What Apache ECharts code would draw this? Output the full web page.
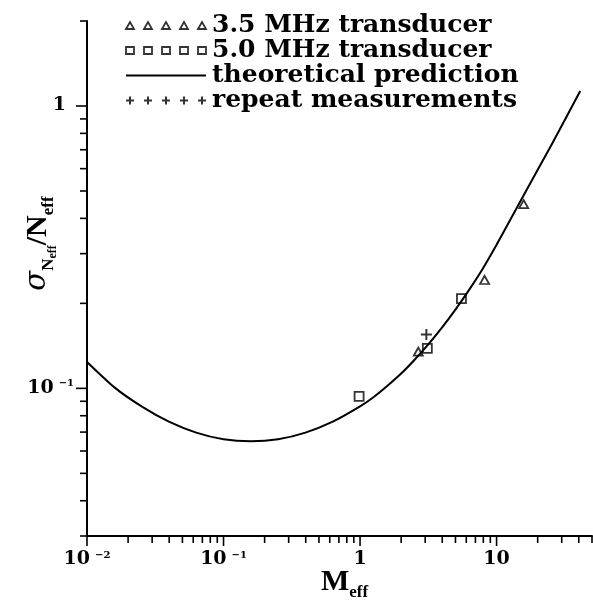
<!DOCTYPE html>
<html>
<head>
<meta charset="utf-8">
<script src="https://cdn.jsdelivr.net/npm/echarts@6/dist/echarts.min.js"></script>
<style>
html, body { margin: 0; padding: 0; background: #fff; }
#main { width: 593px; height: 611px; }
</style>
</head>
<body>
<div id="main"></div>
<script>
// theoretical prediction
let curveX = [0.01, 0.0158, 0.0251, 0.0398, 0.0631, 0.1, 0.158, 0.251, 0.398, 0.631,
              1, 1.26, 1.58, 2.0, 2.51, 3.16, 3.98, 5.01, 6.31, 7.94, 10, 15.8, 25.1, 41];
let curveY = [0.124, 0.101, 0.0863, 0.0762, 0.0697, 0.066, 0.0649, 0.066, 0.0697, 0.0762,
              0.0863, 0.0932, 0.1019, 0.1128, 0.1263, 0.1431, 0.1641, 0.1905, 0.2238, 0.2659, 0.3225, 0.483, 0.725, 1.13];

// measured points
let tri35X = [2.67, 8.17, 15.8];
let tri35Y = [0.135, 0.242, 0.449];
let sq50X = [0.984, 3.11, 5.53];
let sq50Y = [0.0937, 0.1386, 0.208];
let repX = [3.06];
let repY = [0.155];

// axes
let xMin = 0.01, xMax = 50;
let yMin = 0.03, yMax = 2;
let xMajor = [0.01, 0.1, 1, 10];
let xMinor = [0.02, 0.03, 0.04, 0.05, 0.06, 0.07, 0.08, 0.09,
              0.2, 0.3, 0.4, 0.5, 0.6, 0.7, 0.8, 0.9,
              2, 3, 4, 5, 6, 7, 8, 9, 20, 30, 40, 50];
let xLabels = ['{m|10}{s|−2}', '{m|10}{s|−1}', '{m|1}', '{m|10}'];
let yMajor = [0.1, 1];
let yMinor = [0.03, 0.04, 0.05, 0.06, 0.07, 0.08, 0.09,
              0.2, 0.3, 0.4, 0.5, 0.6, 0.7, 0.8, 0.9, 2];
let yLabels = ['{m|10}{s|−1}', '{one|1}'];

let names = ['3.5 MHz transducer', '5.0 MHz transducer', 'theoretical prediction', 'repeat measurements'];

// legend icons: five little symbols in a row
let slots = [0, 18, 36, 54, 72];
let triIcon = 'path://' + slots.map(x => `M${x},7L${x + 4},0L${x + 8},7Z`).join('');
let sqIcon = 'path://' + slots.map(x => `M${x},0H${x + 8}V7H${x}Z`).join('');
let plusIcon = 'path://' + slots.map(x => `M${x},4H${x + 8}M${x + 4},0V8`).join('');
let lineIcon = 'path://M0,0H72V2H0Z';

let hollow = { color: 'rgba(0,0,0,0)', borderColor: '#000', borderWidth: 1.8 };

function pick(vals, texts) {
	return function (v) {
		let i = vals.findIndex(t => Math.abs(t - v) / t < 1e-6);
		return i < 0 ? '' : texts[i];
	};
}

let labelRich = {
	m: { fontFamily: 'DejaVu Serif', fontWeight: 'bold', fontSize: 19, lineHeight: 20, verticalAlign: 'top', color: '#000' },
	s: { fontFamily: 'DejaVu Serif', fontWeight: 'bold', fontSize: 10, lineHeight: 11, verticalAlign: 'top', padding: [0, 0, 0, 5], color: '#000' },
	one: { fontFamily: 'DejaVu Serif', fontWeight: 'bold', fontSize: 19, lineHeight: 20, verticalAlign: 'top', padding: [0, 8, 0, 0], color: '#000' }
};

let nameRich = {
	i: { fontFamily: 'DejaVu Serif', fontStyle: 'italic', fontSize: 29, lineHeight: 30, verticalAlign: 'top', color: '#000' },
	m: { fontFamily: 'Liberation Serif', fontWeight: 'bold', fontSize: 30, lineHeight: 30, verticalAlign: 'top', color: '#000' },
	sub: { fontFamily: 'Liberation Serif', fontWeight: 'bold', fontSize: 17, lineHeight: 16, verticalAlign: 'top', padding: [17, 0, 0, 0], color: '#000' },
	sub2: { fontFamily: 'Liberation Serif', fontWeight: 'bold', fontSize: 12, lineHeight: 12, verticalAlign: 'top', padding: [24, 0, 0, 0], color: '#000' }
};

// tick marks, major and minor, placed through the axes
function ticks(data, down) {
	return {
		type: 'custom',
		silent: true,
		clip: false,
		z: 5,
		data: data,
		renderItem: function (params, api) {
			let p = api.coord([api.value(0), api.value(1)]);
			let len = api.value(2);
			return {
				type: 'line',
				shape: { x1: p[0], y1: p[1], x2: down ? p[0] : p[0] - len, y2: down ? p[1] + len : p[1] },
				style: { stroke: '#000', lineWidth: 1.6 }
			};
		}
	};
}

let xTickData = xMajor.map(v => [v, yMin, 10]).concat(xMinor.map(v => [v, yMin, 7]));
let yTickData = yMajor.map(v => [xMin, v, 11]).concat(yMinor.map(v => [xMin, v, 7]));

var myChart = echarts.init(document.getElementById('main'));
var option = {
	backgroundColor: '#fff',
	animation: false,
	grid: { left: 87, right: 1, top: 21, bottom: 75, outerBoundsMode: 'none', containLabel: false },
	legend: {
		orient: 'vertical',
		left: 120,
		top: 8,
		itemWidth: 80,
		itemHeight: 8,
		itemGap: 0,
		selectedMode: false,
		textStyle: { fontFamily: 'DejaVu Serif', fontWeight: 'bold', fontSize: 25, lineHeight: 21, color: '#000', padding: [0, 0, 0, 1] },
		data: [
			{ name: names[0], icon: triIcon, itemStyle: hollow },
			{ name: names[1], icon: sqIcon, itemStyle: hollow },
			{ name: names[2], icon: lineIcon, itemStyle: { color: '#000', borderWidth: 0 } },
			{ name: names[3], icon: plusIcon, itemStyle: { color: 'rgba(0,0,0,0)', borderColor: '#000', borderWidth: 2 } }
		]
	},
	xAxis: {
		type: 'log',
		logBase: 10,
		min: xMin,
		max: xMax,
		name: '{m|M}{sub|eff}',
		nameLocation: 'middle',
		nameGap: 31,
		nameMoveOverlap: false,
		nameTextStyle: { rich: nameRich, padding: [0, 0, 0, 10] },
		axisLine: { lineStyle: { color: '#000', width: 2 } },
		axisTick: { show: false },
		splitLine: { show: false },
		axisLabel: { margin: 14, formatter: pick(xMajor, xLabels), rich: labelRich }
	},
	yAxis: {
		type: 'log',
		logBase: 10,
		min: yMin,
		max: yMax,
		name: '{i|σ}{sub|N}{sub2|eff}{m|/N}{sub|eff}',
		nameLocation: 'middle',
		nameGap: 34,
		nameMoveOverlap: false,
		nameTextStyle: { rich: nameRich, padding: [0, 0, 0, 70] },
		axisLine: { lineStyle: { color: '#000', width: 2 } },
		axisTick: { show: false },
		splitLine: { show: false },
		axisLabel: { margin: 13, formatter: pick(yMajor, yLabels), rich: labelRich }
	},
	series: [
		{
			name: names[2],
			type: 'line',
			data: curveX.map((x, i) => [x, curveY[i]]),
			symbol: 'none',
			smooth: 0.2,
			lineStyle: { color: '#000', width: 2 },
			itemStyle: { color: '#000' },
			z: 3
		},
		{
			name: names[0],
			type: 'scatter',
			data: tri35X.map((x, i) => [x, tri35Y[i]]),
			symbol: 'triangle',
			symbolSize: [9, 8],
			itemStyle: hollow,
			z: 4
		},
		{
			name: names[1],
			type: 'scatter',
			data: sq50X.map((x, i) => [x, sq50Y[i]]),
			symbol: 'rect',
			symbolSize: [9, 9],
			itemStyle: hollow,
			z: 4
		},
		{
			name: names[3],
			type: 'scatter',
			data: repX.map((x, i) => [x, repY[i]]),
			symbol: 'path://M0,5H10M5,0V10',
			symbolSize: 11,
			itemStyle: { color: 'rgba(0,0,0,0)', borderColor: '#000', borderWidth: 2 },
			z: 4
		},
		ticks(xTickData, true),
		ticks(yTickData, false)
	]
};
myChart.setOption(option);
</script>
</body>
</html>
